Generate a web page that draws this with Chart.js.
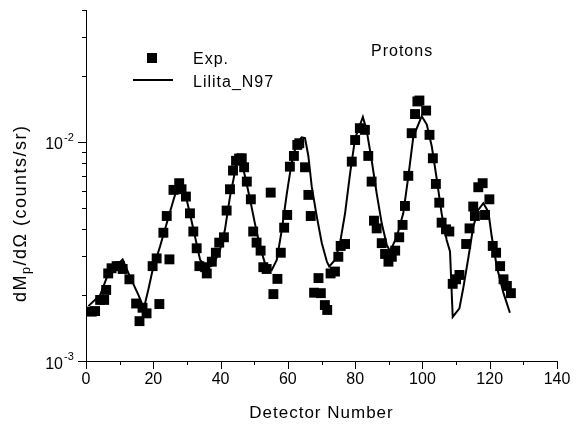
<!DOCTYPE html>
<html><head><meta charset="utf-8">
<script src="https://cdn.jsdelivr.net/npm/chart.js@4/dist/chart.umd.min.js"></script>
<style>html,body{margin:0;padding:0;background:#fff}#wrap{width:581px;height:424px}</style>
</head><body><div id="wrap"><canvas id="c" width="581" height="424"></canvas></div>
<script>
// Experimental points (Exp.)
const expX = [1.7,2.7,4.2,5.4,6.0,6.6,7.6,9.1,10.1,10.9,12.9,14.9,15.9,16.8,18.0,19.8,21.0,21.8,23.0,24.0,24.8,26.0,27.7,28.4,29.7,30.9,31.9,32.9,33.7,35.4,35.9,37.4,38.6,39.6,41.0,41.8,42.8,43.7,44.6,45.5,46.3,47.0,47.8,49.0,49.7,50.7,51.9,52.7,53.7,54.9,55.7,56.9,57.9,58.9,59.8,60.6,61.8,62.8,63.4,65.1,66.1,66.8,67.8,69.1,69.8,71.0,71.7,72.7,74.0,75.0,75.7,77.0,79.0,80.0,81.4,82.9,83.9,84.9,85.6,86.4,87.9,88.9,89.9,90.9,91.9,93.1,94.1,94.8,95.8,96.8,97.8,98.5,99.1,101.1,102.1,103.1,104.0,105.0,105.7,107.0,108.0,109.0,110.0,111.0,113.0,114.0,115.1,115.6,116.6,117.9,118.6,119.9,120.9,121.9,123.1,124.1,125.1,126.3];
const expY = [1.68e-3,1.69e-3,1.90e-3,1.90e-3,2.11e-3,2.51e-3,2.65e-3,2.71e-3,2.71e-3,2.63e-3,2.36e-3,1.83e-3,1.52e-3,1.75e-3,1.65e-3,2.71e-3,2.94e-3,1.82e-3,3.85e-3,4.59e-3,2.91e-3,6.04e-3,6.48e-3,6.08e-3,5.63e-3,4.72e-3,3.90e-3,3.27e-3,2.71e-3,2.68e-3,2.51e-3,2.84e-3,3.12e-3,3.47e-3,3.67e-3,4.86e-3,6.08e-3,7.4e-3,8.2e-3,8.4e-3,8.42e-3,7.66e-3,6.59e-3,5.47e-3,3.90e-3,3.47e-3,3.19e-3,2.68e-3,2.63e-3,5.87e-3,2.02e-3,2.37e-3,3.12e-3,4.06e-3,4.64e-3,7.71e-3,8.63e-3,9.69e-3,9.86e-3,7.66e-3,5.73e-3,4.59e-3,2.05e-3,2.39e-3,2.04e-3,1.80e-3,1.71e-3,2.51e-3,2.56e-3,2.99e-3,3.35e-3,3.42e-3,8.13e-3,1.02e-2,1.155e-2,1.135e-2,8.63e-3,6.59e-3,4.37e-3,4.03e-3,3.45e-3,3.08e-3,2.84e-3,2.99e-3,3.19e-3,3.67e-3,4.18e-3,5.10e-3,7.0e-3,1.096e-2,1.34e-2,1.53e-2,1.545e-2,1.39e-2,1.077e-2,8.42e-3,6.43e-3,5.28e-3,4.28e-3,3.99e-3,3.90e-3,2.25e-3,2.36e-3,2.47e-3,3.42e-3,4.03e-3,5.07e-3,4.59e-3,6.21e-3,6.48e-3,4.64e-3,5.47e-3,3.35e-3,3.12e-3,2.71e-3,2.36e-3,2.2e-3,2.04e-3];
// Calculation (Lilita_N97)
const fitX = [0.7,4.2,6.6,9.1,10.9,13.1,15.6,17.2,18.5,19.8,22.0,24.0,26.0,27.4,27.9,29.7,30.9,32.4,33.9,35.7,37.8,39.8,41.3,42.8,43.8,45.2,45.8,47.3,48.8,50.2,51.7,53.2,55.2,56.7,58.2,59.7,61.1,62.6,64.1,65.1,66.1,67.1,68.6,70.1,71.6,72.3,74.0,75.5,77.0,78.5,80.0,82.3,83.4,84.9,86.4,87.9,89.4,90.4,92.4,94.3,95.8,97.3,99.8,101.3,102.8,104.3,105.7,107.2,108.2,109.0,111.0,112.2,113.7,115.1,116.6,118.1,119.6,120.6,122.1,124.1,126.0];
const fitY = [1.78e-3,2.0e-3,2.5e-3,2.74e-3,2.91e-3,2.42e-3,2.0e-3,1.74e-3,2.11e-3,2.6e-3,3.33e-3,4.25e-3,5.43e-3,6.37e-3,6.6e-3,5.63e-3,4.7e-3,3.7e-3,2.9e-3,2.65e-3,2.74e-3,3.2e-3,3.97e-3,5.63e-3,6.7e-3,8.7e-3,8.6e-3,6.94e-3,5.43e-3,4.25e-3,3.33e-3,2.79e-3,2.6e-3,2.89e-3,3.97e-3,5.82e-3,8.0e-3,9.86e-3,1.05e-2,1.04e-2,8.6e-3,6.25e-3,4.56e-3,3.45e-3,2.84e-3,2.7e-3,2.89e-3,3.45e-3,4.72e-3,7.19e-3,1.04e-2,1.3e-2,1.135e-2,8.27e-3,5.82e-3,4.25e-3,3.39e-3,3.16e-3,3.7e-3,4.72e-3,6.94e-3,1.057e-2,1.31e-2,1.2e-2,9.5e-3,6.7e-3,4.72e-3,3.57e-3,3.16e-3,1.59e-3,1.74e-3,2.18e-3,2.99e-3,4.1e-3,4.89e-3,5.25e-3,4.8e-3,3.7e-3,2.7e-3,2.04e-3,1.66e-3];
const xTickValues = [0,20,40,60,80,100,120,140];
const yMajorValues = [0.001, 0.01];
const yMajorLabels = [['10','-3'],['10','-2']];
const seriesNames = ['Exp.', 'Lilita_N97'];
const panelLabel = 'Protons';
const xTitle = 'Detector Number';

const FONT = '"Liberation Sans", Arial, sans-serif';

const decor = {
  id: 'decor',
  afterDraw(chart) {
    const ctx = chart.ctx, xs = chart.scales.x, ys = chart.scales.y, ca = chart.chartArea;
    ctx.save();
    ctx.strokeStyle = '#000'; ctx.fillStyle = '#000'; ctx.lineWidth = 1;
    // x tick marks
    for (let v = 0; v <= 140; v += 10) {
      const px = Math.round(xs.getPixelForValue(v)) + 0.5;
      const len = (v % 20 === 0) ? 8 : 4;
      ctx.beginPath(); ctx.moveTo(px, ca.bottom); ctx.lineTo(px, ca.bottom + len); ctx.stroke();
    }
    // y tick marks
    const yt = [];
    [0.001, 0.01].forEach(d => { for (let m = 1; m <= 9; m++) { const v = d * m; if (v <= 0.0400001) yt.push([v, m === 1]); } });
    yt.forEach(([v, major]) => {
      const py = Math.round(ys.getPixelForValue(v)) + 0.5;
      ctx.beginPath(); ctx.moveTo(ca.left - (major ? 8 : 4), py); ctx.lineTo(ca.left, py); ctx.stroke();
    });
    // y tick labels
    yMajorValues.forEach((v, i) => {
      const py = ys.getPixelForValue(v);
      ctx.font = '16px ' + FONT; ctx.textAlign = 'right'; ctx.textBaseline = 'alphabetic';
      ctx.fillText(yMajorLabels[i][0], 63, py + 7.5);
      ctx.font = '11px ' + FONT; ctx.textAlign = 'left';
      ctx.fillText(yMajorLabels[i][1], 64, py - 1);
    });
    ctx.letterSpacing = '1px';
    // x title
    ctx.font = '17px ' + FONT; ctx.textAlign = 'center'; ctx.textBaseline = 'alphabetic';
    ctx.fillText(xTitle, (ca.left + ca.right) / 2, 418);
    // y title
    ctx.save();
    ctx.letterSpacing = '1.5px';
    ctx.translate(26, 302); ctx.rotate(-Math.PI / 2);
    ctx.textAlign = 'left';
    ctx.font = '18px ' + FONT;
    ctx.fillText('dM', 0, 0);
    let w = ctx.measureText('dM').width;
    ctx.font = '12.5px ' + FONT;
    ctx.fillText('p', w, 4);
    w += ctx.measureText('p').width;
    ctx.font = '18px ' + FONT;
    ctx.fillText('/d\u03A9 (counts/sr)', w, 0);
    ctx.restore();
    // legend
    ctx.fillRect(147, 53, 10, 10);
    ctx.lineWidth = 2;
    ctx.beginPath(); ctx.moveTo(133, 80); ctx.lineTo(173, 80); ctx.stroke();
    ctx.font = '16px ' + FONT; ctx.textAlign = 'left';
    ctx.fillText(seriesNames[0], 193, 64);
    ctx.fillText(seriesNames[1], 193, 87);
    ctx.fillText(panelLabel, 371, 56);
    ctx.restore();
  }
};

new Chart(document.getElementById('c'), {
  type: 'scatter',
  data: {
    datasets: [
      { label: seriesNames[0], data: expX.map((x, i) => ({x, y: expY[i]})),
        pointStyle: 'rect', pointRadius: 7, pointHoverRadius: 7, backgroundColor: '#000', borderColor: '#000', borderWidth: 0, order: 2 },
      { label: seriesNames[1], data: fitX.map((x, i) => ({x, y: fitY[i]})), showLine: true,
        pointRadius: 0, borderColor: '#000', borderWidth: 2, tension: 0, order: 1 }
    ]
  },
  options: {
    responsive: false, animation: false, devicePixelRatio: 1,
    layout: { padding: { top: 10, right: 24, left: 0, bottom: 0 } },
    plugins: { legend: { display: false }, tooltip: { enabled: false } },
    scales: {
      x: {
        type: 'linear', min: 0, max: 140,
        afterBuildTicks: s => { s.ticks = xTickValues.map(v => ({value: v})); },
        afterFit: s => { s.height = 63; },
        ticks: { font: { family: FONT, size: 16 }, color: '#000', padding: 1, maxRotation: 0 },
        grid: { display: false, drawTicks: true, tickLength: 8 },
        border: { display: true, color: '#000', width: 1 }
      },
      y: {
        type: 'logarithmic', min: 0.001, max: 0.04,
        afterFit: s => { s.width = 86; },
        ticks: { display: false },
        grid: { display: false, drawTicks: false },
        border: { display: true, color: '#000', width: 1 }
      }
    }
  },
  plugins: [decor]
});
</script></body></html>
